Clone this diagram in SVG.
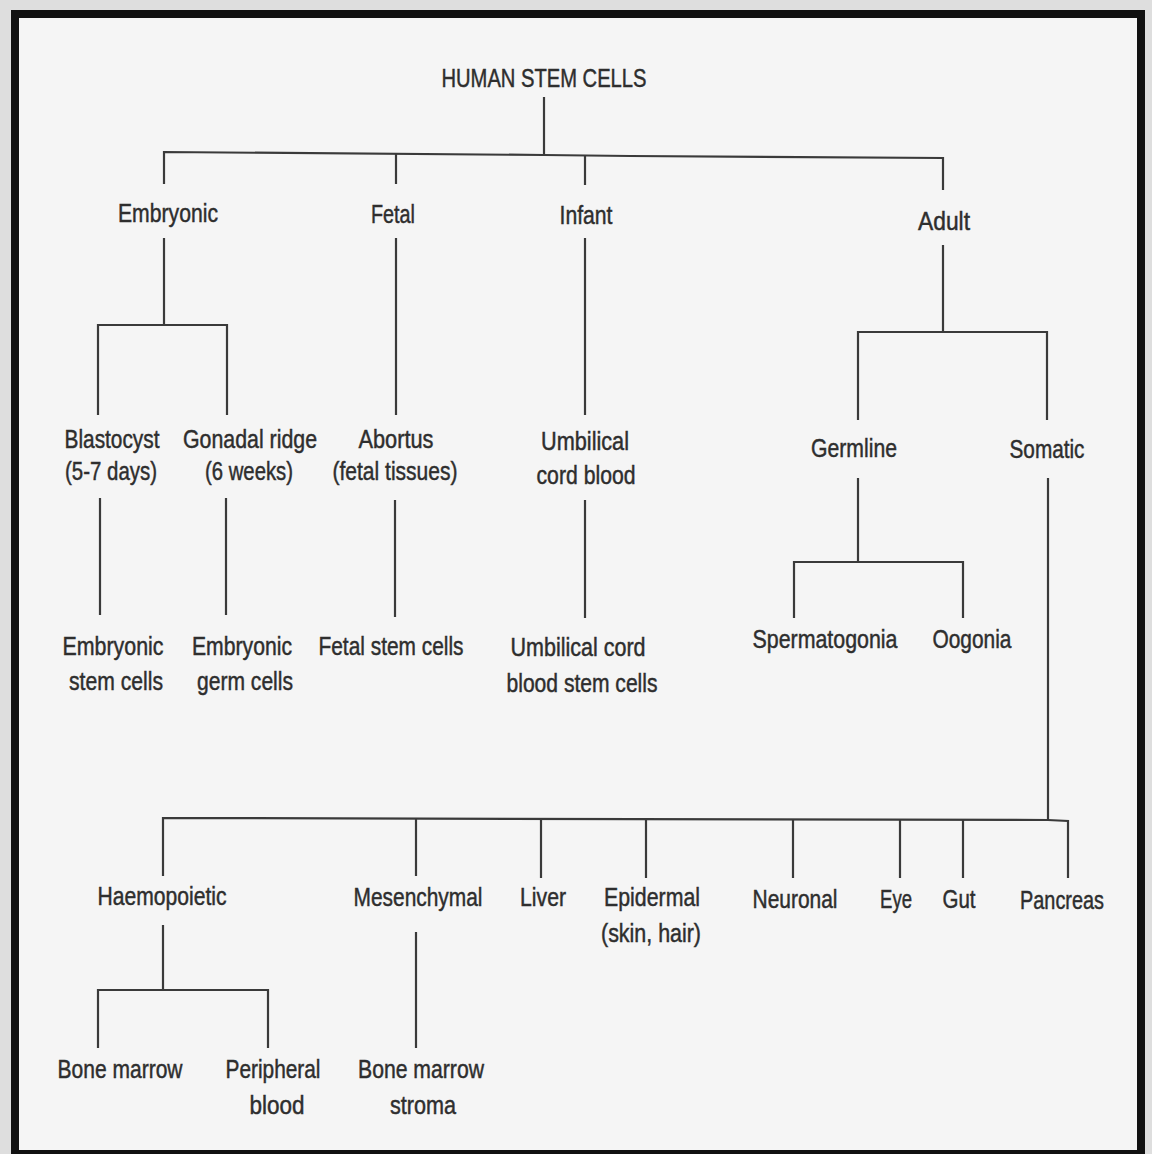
<svg xmlns="http://www.w3.org/2000/svg" width="1152" height="1154" viewBox="0 0 1152 1154">
<style>
.t{font-family:"Liberation Sans","Arial",sans-serif;font-size:25px;fill:#2e2e2e;stroke:#2e2e2e;stroke-width:0.45;text-anchor:middle}
.c{stroke:#3a3a3a;stroke-width:2.2;fill:none}
</style>
<rect x="0" y="0" width="1152" height="1154" fill="#dedede"/>
<rect x="15" y="14" width="1126" height="1140" fill="#f5f5f5" stroke="#111" stroke-width="8"/>
<g id="connectors" class="c">
<path d="M544 97V155"/>
<path d="M164 184V152L544 155L630 156L943 158V190"/>
<path d="M396 153V184"/>
<path d="M585 155V185"/>
<path d="M164 238V325M98 415V325H227V415"/>
<path d="M396 238V415"/>
<path d="M585 238V415"/>
<path d="M943 245V332M858 420V332H1047V420"/>
<path d="M100 498V615"/>
<path d="M226 498V615"/>
<path d="M395 500V617"/>
<path d="M585 500V618"/>
<path d="M858 478V562M794 618V562H963V618"/>
<path d="M1048 478V820"/>
<path d="M163 876V818L1048 820L1068 821V878"/>
<path d="M416 818V876"/>
<path d="M541 819V878"/>
<path d="M646 819V878"/>
<path d="M793 820V878"/>
<path d="M900 820V878"/>
<path d="M963 820V878"/>
<path d="M163 925V990M98 1048V990H268V1048"/>
<path d="M416 932V1048"/>
</g>
<g id="n-root"><text class="t" x="544" y="87" textLength="205" lengthAdjust="spacingAndGlyphs">HUMAN STEM CELLS</text></g>
<g id="n-embryonic"><text class="t" x="168" y="222" textLength="100" lengthAdjust="spacingAndGlyphs">Embryonic</text></g>
<g id="n-fetal"><text class="t" x="393" y="223" textLength="44" lengthAdjust="spacingAndGlyphs">Fetal</text></g>
<g id="n-infant"><text class="t" x="586" y="224" textLength="53" lengthAdjust="spacingAndGlyphs">Infant</text></g>
<g id="n-adult"><text class="t" x="944" y="230" textLength="52" lengthAdjust="spacingAndGlyphs">Adult</text></g>
<g id="n-blastocyst"><text class="t" x="112" y="448" textLength="95" lengthAdjust="spacingAndGlyphs">Blastocyst</text><text class="t" x="111" y="480" textLength="92" lengthAdjust="spacingAndGlyphs">(5-7 days)</text></g>
<g id="n-gonadal"><text class="t" x="250" y="448" textLength="134" lengthAdjust="spacingAndGlyphs">Gonadal ridge</text><text class="t" x="249" y="480" textLength="88" lengthAdjust="spacingAndGlyphs">(6 weeks)</text></g>
<g id="n-abortus"><text class="t" x="396" y="448" textLength="75" lengthAdjust="spacingAndGlyphs">Abortus</text><text class="t" x="395" y="480" textLength="125" lengthAdjust="spacingAndGlyphs">(fetal tissues)</text></g>
<g id="n-umbilical"><text class="t" x="585" y="450" textLength="88" lengthAdjust="spacingAndGlyphs">Umbilical</text><text class="t" x="586" y="484" textLength="99" lengthAdjust="spacingAndGlyphs">cord blood</text></g>
<g id="n-germline"><text class="t" x="854" y="457" textLength="86" lengthAdjust="spacingAndGlyphs">Germline</text></g>
<g id="n-somatic"><text class="t" x="1047" y="458" textLength="75" lengthAdjust="spacingAndGlyphs">Somatic</text></g>
<g id="n-esc"><text class="t" x="113" y="655" textLength="101" lengthAdjust="spacingAndGlyphs">Embryonic</text><text class="t" x="116" y="690" textLength="94" lengthAdjust="spacingAndGlyphs">stem cells</text></g>
<g id="n-egc"><text class="t" x="242" y="655" textLength="100" lengthAdjust="spacingAndGlyphs">Embryonic</text><text class="t" x="245" y="690" textLength="96" lengthAdjust="spacingAndGlyphs">germ cells</text></g>
<g id="n-fsc"><text class="t" x="391" y="655" textLength="145" lengthAdjust="spacingAndGlyphs">Fetal stem cells</text></g>
<g id="n-ucb"><text class="t" x="578" y="656" textLength="135" lengthAdjust="spacingAndGlyphs">Umbilical cord</text><text class="t" x="582" y="692" textLength="151" lengthAdjust="spacingAndGlyphs">blood stem cells</text></g>
<g id="n-sperm"><text class="t" x="825" y="648" textLength="145" lengthAdjust="spacingAndGlyphs">Spermatogonia</text></g>
<g id="n-oogonia"><text class="t" x="972" y="648" textLength="79" lengthAdjust="spacingAndGlyphs">Oogonia</text></g>
<g id="n-haemo"><text class="t" x="162" y="905" textLength="129" lengthAdjust="spacingAndGlyphs">Haemopoietic</text></g>
<g id="n-mesen"><text class="t" x="418" y="906" textLength="129" lengthAdjust="spacingAndGlyphs">Mesenchymal</text></g>
<g id="n-liver"><text class="t" x="543" y="906" textLength="46" lengthAdjust="spacingAndGlyphs">Liver</text></g>
<g id="n-epi"><text class="t" x="652" y="906" textLength="96" lengthAdjust="spacingAndGlyphs">Epidermal</text><text class="t" x="651" y="942" textLength="100" lengthAdjust="spacingAndGlyphs">(skin, hair)</text></g>
<g id="n-neuro"><text class="t" x="795" y="908" textLength="85" lengthAdjust="spacingAndGlyphs">Neuronal</text></g>
<g id="n-eye"><text class="t" x="896" y="908" textLength="32" lengthAdjust="spacingAndGlyphs">Eye</text></g>
<g id="n-gut"><text class="t" x="959" y="908" textLength="33" lengthAdjust="spacingAndGlyphs">Gut</text></g>
<g id="n-pancreas"><text class="t" x="1062" y="909" textLength="84" lengthAdjust="spacingAndGlyphs">Pancreas</text></g>
<g id="n-bm"><text class="t" x="120" y="1078" textLength="125" lengthAdjust="spacingAndGlyphs">Bone marrow</text></g>
<g id="n-pb"><text class="t" x="273" y="1078" textLength="95" lengthAdjust="spacingAndGlyphs">Peripheral</text><text class="t" x="277" y="1114" textLength="55" lengthAdjust="spacingAndGlyphs">blood</text></g>
<g id="n-bms"><text class="t" x="421" y="1078" textLength="126" lengthAdjust="spacingAndGlyphs">Bone marrow</text><text class="t" x="423" y="1114" textLength="66" lengthAdjust="spacingAndGlyphs">stroma</text></g>
</svg>
